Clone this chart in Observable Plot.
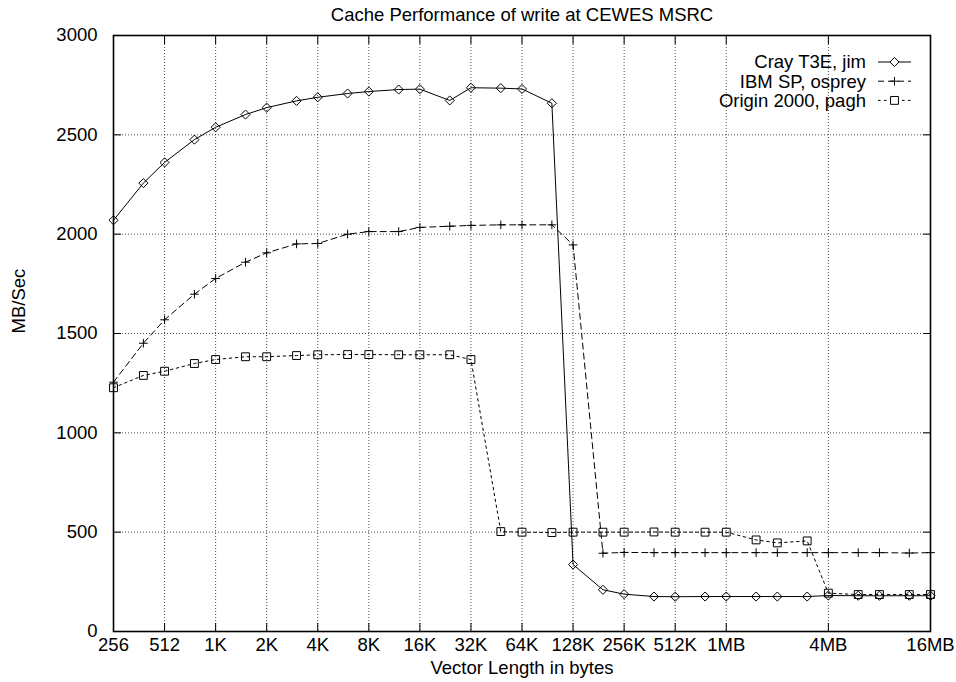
<!DOCTYPE html>
<html><head><meta charset="utf-8">
<script src="https://cdn.jsdelivr.net/npm/d3@7"></script>
<script src="https://cdn.jsdelivr.net/npm/@observablehq/plot@0.6"></script>
<style>
html,body{margin:0;padding:0;background:#fff;}
#chart{position:relative;width:956px;height:682px;}
#chart svg{position:absolute;left:0;top:0;}
</style></head><body><div id="chart"></div>
<script>
const titleText = "Cache Performance of write at CEWES MSRC";
const xLabel = "Vector Length in bytes";
const yLabel = "MB/Sec";

// vector lengths in bytes
const sizes = [256,384,512,768,1024,1536,2048,3072,4096,6144,8192,12288,16384,24576,32768,49152,65536,98304,
  131072,196608,262144,393216,524288,786432,1048576,1572864,2097152,3145728,4194304,6291456,8388608,12582912,16777216];

const cray = [2070,2257,2361,2476,2538,2602,2637,2671,2689,2708,2718,2728,2730,2673,2737,2735,2731,2659,
  337,210,188,176,175,176,176,176,176,176,181,180,180,180,180];
const ibm = [1255,1451,1569,1698,1777,1859,1906,1951,1953,2000,2013,2013,2034,2040,2044,2047,2047,2047,
  1946,394,398,397,397,397,397,397,397,397,397,397,397,395,397];
const origin = [1227,1289,1310,1349,1369,1383,1383,1389,1393,1394,1394,1393,1393,1393,1369,503,500,498,
  500,500,500,501,500,500,500,461,446,456,193,186,186,186,186];

const seriesNames = ["Cray T3E, jim", "IBM SP, osprey", "Origin 2000, pagh"];
const seriesValues = [cray, ibm, origin];

const xTicks = [256,512,1024,2048,4096,8192,16384,32768,65536,131072,262144,524288,1048576,4194304,16777216];
const xTickLabels = ["256","512","1K","2K","4K","8K","16K","32K","64K","128K","256K","512K","1MB","4MB","16MB"];
const yTicks = [0,500,1000,1500,2000,2500,3000];

// styles
const seriesDash = [null, "6,4", "2.5,3.5"];
const seriesSymbol = ["diamond2", "plus", "square2"];
const seriesR = [4.1, 2.9, 5.0];

const rows = [];
seriesNames.forEach((name, s) => sizes.forEach((x, i) => rows.push({series: name, x, y: seriesValues[s][i]})));

const W = 956, H = 682, mL = 113, mR = 26, mT = 35, mB = 51;
const FONT = "'Liberation Sans', Arial, Helvetica, sans-serif";
const FS = 18.5;

const seriesMarks = seriesNames.flatMap((name, s) => {
  const d = rows.filter(r => r.series === name);
  return [
    Plot.line(d, {x: "x", y: "y", stroke: "#000", strokeWidth: 1, strokeDasharray: seriesDash[s]}),
    Plot.dot(d, {x: "x", y: "y", symbol: seriesSymbol[s], r: seriesR[s], stroke: "#000", fill: "none", strokeWidth: 1})
  ];
});

const fmtX = d => xTickLabels[xTicks.indexOf(d)];
const fmtY = d => String(d);
const gridStyle = {stroke: "#000", strokeOpacity: 0.7, strokeDasharray: "1,2", strokeWidth: 1};

const chart = Plot.plot({
  width: W, height: H,
  marginLeft: mL, marginRight: mR, marginTop: mT, marginBottom: mB,
  style: {fontFamily: FONT, fontSize: FS + "px", background: "#fff", color: "#000"},
  x: {type: "log", base: 2, domain: [256, 16777216]},
  y: {domain: [0, 3000]},
  marks: [
    Plot.gridX(xTicks, gridStyle),
    Plot.gridY(yTicks, gridStyle),
    ...seriesMarks,
    Plot.frame({stroke: "#000", strokeWidth: 1.6}),
    Plot.axisX(xTicks, {anchor: "bottom", tickSize: 0, tickPadding: 6, tickFormat: fmtX, label: null}),
    Plot.axisX(xTicks, {anchor: "bottom", tickSize: -8, fill: "none", label: null}),
    Plot.axisX(xTicks, {anchor: "top", tickSize: -8, fill: "none", label: null}),
    Plot.axisY(yTicks, {anchor: "left", tickSize: 0, tickPadding: 16, tickFormat: fmtY, label: null}),
    Plot.axisY(yTicks, {anchor: "left", tickSize: -8, fill: "none", label: null}),
    Plot.axisY(yTicks, {anchor: "right", tickSize: -8, fill: "none", label: null}),
    Plot.text([titleText], {frameAnchor: "top", dy: -20, lineAnchor: "middle", fontSize: FS}),
    Plot.text([xLabel], {frameAnchor: "bottom", dy: 37, lineAnchor: "middle", fontSize: FS}),
    Plot.text([yLabel], {frameAnchor: "left", dx: -94, rotate: -90, lineAnchor: "middle", fontSize: FS})
  ]
});
document.getElementById("chart").appendChild(chart);

// legend overlay (key in the upper right of the plot area)
const symbolTypes = {diamond2: d3.symbolDiamond2, plus: d3.symbolPlus, square2: d3.symbolSquare2};
const leg = d3.select("#chart").append("svg").attr("width", W).attr("height", H)
  .style("pointer-events", "none").style("font-family", FONT).style("font-size", FS + "px");
const legTextX = 866, legX1 = 878, legX2 = 911, legY0 = 62, legStep = 19.2;
seriesNames.forEach((name, s) => {
  const y = legY0 + s * legStep;
  leg.append("text").attr("x", legTextX).attr("y", y).attr("dy", "0.35em")
    .attr("text-anchor", "end").attr("fill", "#000").text(name);
  leg.append("line").attr("x1", legX1).attr("x2", legX2).attr("y1", y).attr("y2", y)
    .attr("stroke", "#000").attr("stroke-width", 1).attr("stroke-dasharray", seriesDash[s]);
  leg.append("path").attr("transform", `translate(${(legX1 + legX2) / 2},${y})`)
    .attr("d", d3.symbol().type(symbolTypes[seriesSymbol[s]]).size(Math.PI * seriesR[s] * seriesR[s])())
    .attr("fill", "#fff").attr("stroke", "#000").attr("stroke-width", 1);
});
</script>
</body></html>
